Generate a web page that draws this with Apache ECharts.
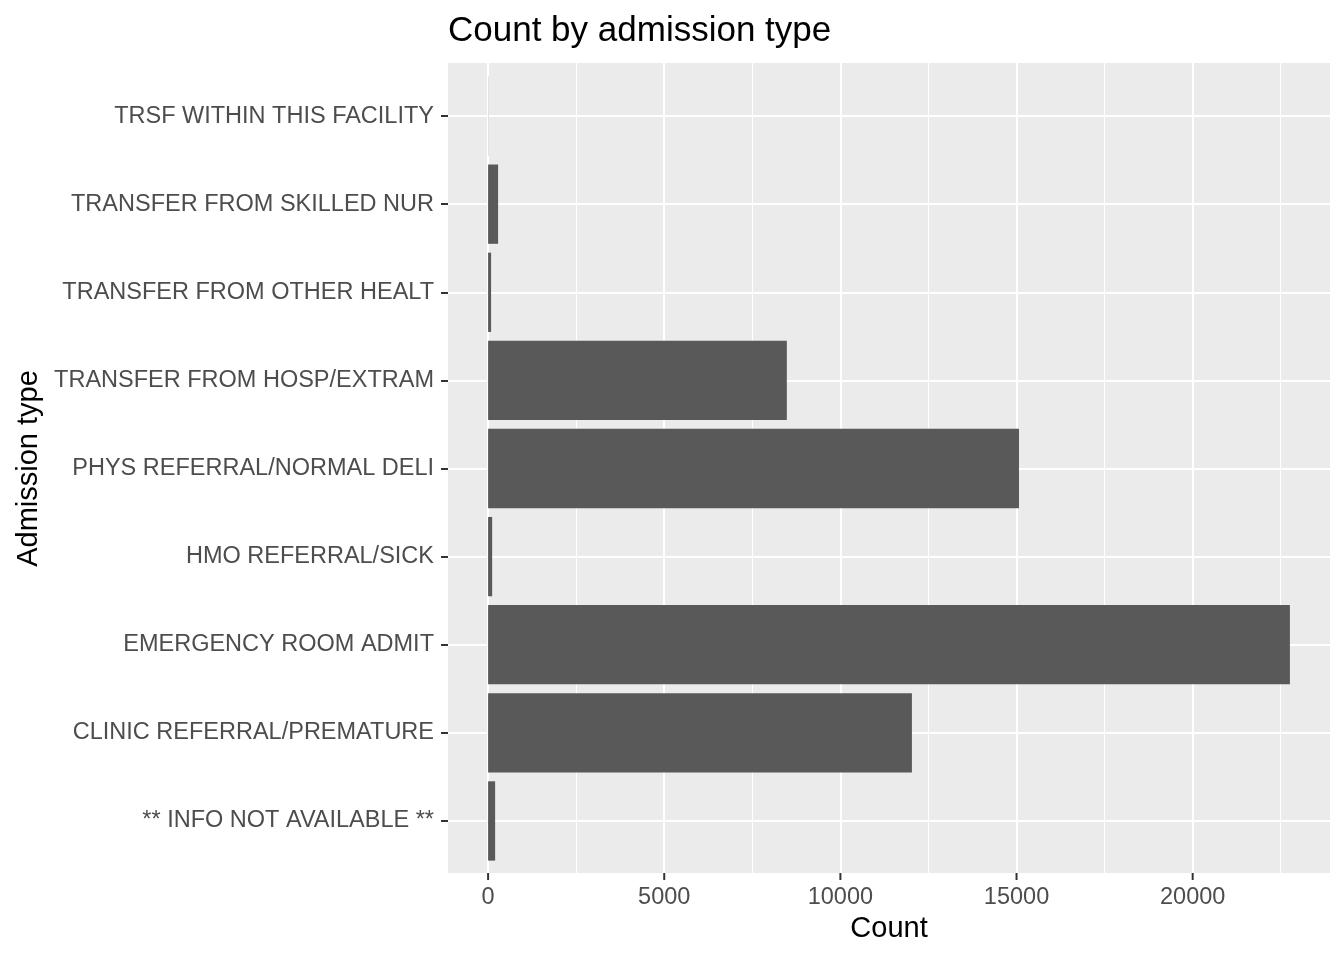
<html>
<head>
    <meta charset="utf-8">
    <script src="https://cdn.jsdelivr.net/npm/echarts@6/dist/echarts.min.js"></script>
    <style>
        html, body { margin: 0; padding: 0; background: #fff; }
        #main { width: 1344px; height: 960px; }
    </style>
</head>
<body>
    <div id="main"></div>
    <script>
        // categories, bottom to top like the ggplot panel
        var admissionTypes = [
            '** INFO NOT AVAILABLE **',
            'CLINIC REFERRAL/PREMATURE',
            'EMERGENCY ROOM ADMIT',
            'HMO REFERRAL/SICK',
            'PHYS REFERRAL/NORMAL DELI',
            'TRANSFER FROM HOSP/EXTRAM',
            'TRANSFER FROM OTHER HEALT',
            'TRANSFER FROM SKILLED NUR',
            'TRSF WITHIN THIS FACILITY'
        ];
        var counts = [200, 12030, 22760, 115, 15070, 8480, 85, 284, 5];
        var majorTicks = [0, 5000, 10000, 15000, 20000];
        var minorTicks = [2500, 7500, 12500, 17500, 22500];

        var font = "'Liberation Sans', Arial, sans-serif";
        var maxCount = Math.max.apply(null, counts);
        var pad = maxCount * 0.05;   // ggplot default expansion

        var chart = echarts.init(document.getElementById('main'));

        var hLines = admissionTypes.map(function (c) {
            return { yAxis: c };
        });
        var vLines = minorTicks.map(function (v) {
            return { xAxis: v };
        });

        var option = {
            animation: false,
            backgroundColor: '#ffffff',
            title: {
                text: 'Count by admission type',
                left: 448,
                top: 14,
                padding: 0,
                textStyle: { fontSize: 35, fontWeight: 'normal', color: '#000', fontFamily: font }
            },
            // grid 0 = the grey panel, grid 1 = category band (ggplot pads discrete axes by 0.6)
            grid: [{
                left: 448,
                right: 14,
                top: 63,
                bottom: 87,
                show: true,
                backgroundColor: '#ebebeb',
                borderWidth: 0
            }, {
                left: 448,
                right: 14,
                top: 72,
                bottom: 95
            }],
            xAxis: [{
                // only the major vertical grid lines
                gridIndex: 0,
                type: 'value',
                min: -pad,
                max: maxCount + pad,
                axisLine: { show: false },
                axisTick: { show: false, customValues: majorTicks },
                axisLabel: { show: false, customValues: majorTicks },
                splitLine: { show: true, lineStyle: { color: '#ffffff', width: 2 } }
            }, {
                // labels and title, pushed down to the panel edge
                gridIndex: 1,
                type: 'value',
                position: 'bottom',
                offset: 8,
                min: -pad,
                max: maxCount + pad,
                name: 'Count',
                nameLocation: 'middle',
                nameGap: 39,
                nameTextStyle: { fontSize: 29, color: '#000', fontFamily: font },
                axisLine: { show: true, onZero: false, lineStyle: { color: 'rgba(0,0,0,0)' } },
                axisTick: { show: false, customValues: majorTicks },
                axisLabel: {
                    customValues: majorTicks, margin: 13, fontSize: 23.5, color: '#4d4d4d', fontFamily: font,
                    formatter: function (v) { return String(v); }
                },
                splitLine: { show: false }
            }],
            yAxis: [{
                gridIndex: 0,
                type: 'value',
                min: 0,
                max: 1,
                show: false,
                splitLine: { show: false }
            }, {
                gridIndex: 1,
                type: 'category',
                data: admissionTypes,
                name: 'Admission type',
                nameLocation: 'middle',
                nameGap: 404,
                nameRotate: 90,
                nameTextStyle: { fontSize: 29, color: '#000', fontFamily: font },
                axisLine: { show: true, onZero: false, lineStyle: { color: 'rgba(0,0,0,0)' } },
                axisTick: { show: true, alignWithLabel: true, length: 7, lineStyle: { color: '#333333', width: 2 } },
                axisLabel: { margin: 14, padding: [5, 0, 0, 0], fontSize: 23.5, color: '#4d4d4d', fontFamily: font },
                splitLine: { show: false }
            }],
            series: [{
                // minor vertical grid lines over the whole panel
                type: 'line',
                xAxisIndex: 0,
                yAxisIndex: 0,
                data: [],
                silent: true,
                markLine: {
                    silent: true,
                    symbol: 'none',
                    label: { show: false },
                    lineStyle: { color: '#ffffff', type: 'solid', width: 1 },
                    data: vLines
                }
            }, {
                // x axis tick marks under the panel, placed by the x scale
                type: 'custom',
                xAxisIndex: 0,
                yAxisIndex: 0,
                silent: true,
                clip: false,
                z: 20,
                data: majorTicks.map(function (v) { return [v, 0]; }),
                renderItem: function (params, api) {
                    var p = api.coord([api.value(0), api.value(1)]);
                    return {
                        type: 'line',
                        shape: { x1: p[0], y1: p[1], x2: p[0], y2: p[1] + 7 },
                        style: { stroke: '#333333', lineWidth: 2 }
                    };
                }
            }, {
                type: 'bar',
                xAxisIndex: 1,
                yAxisIndex: 1,
                data: counts,
                z: 10,
                barCategoryGap: '10%',
                itemStyle: { color: '#595959' },
                markLine: {
                    silent: true,
                    symbol: 'none',
                    label: { show: false },
                    lineStyle: { color: '#ffffff', type: 'solid', width: 2 },
                    data: hLines
                }
            }]
        };

        chart.setOption(option);

        window.onresize = function () {
            chart.resize();
        }
    </script>
</body>
</html>
